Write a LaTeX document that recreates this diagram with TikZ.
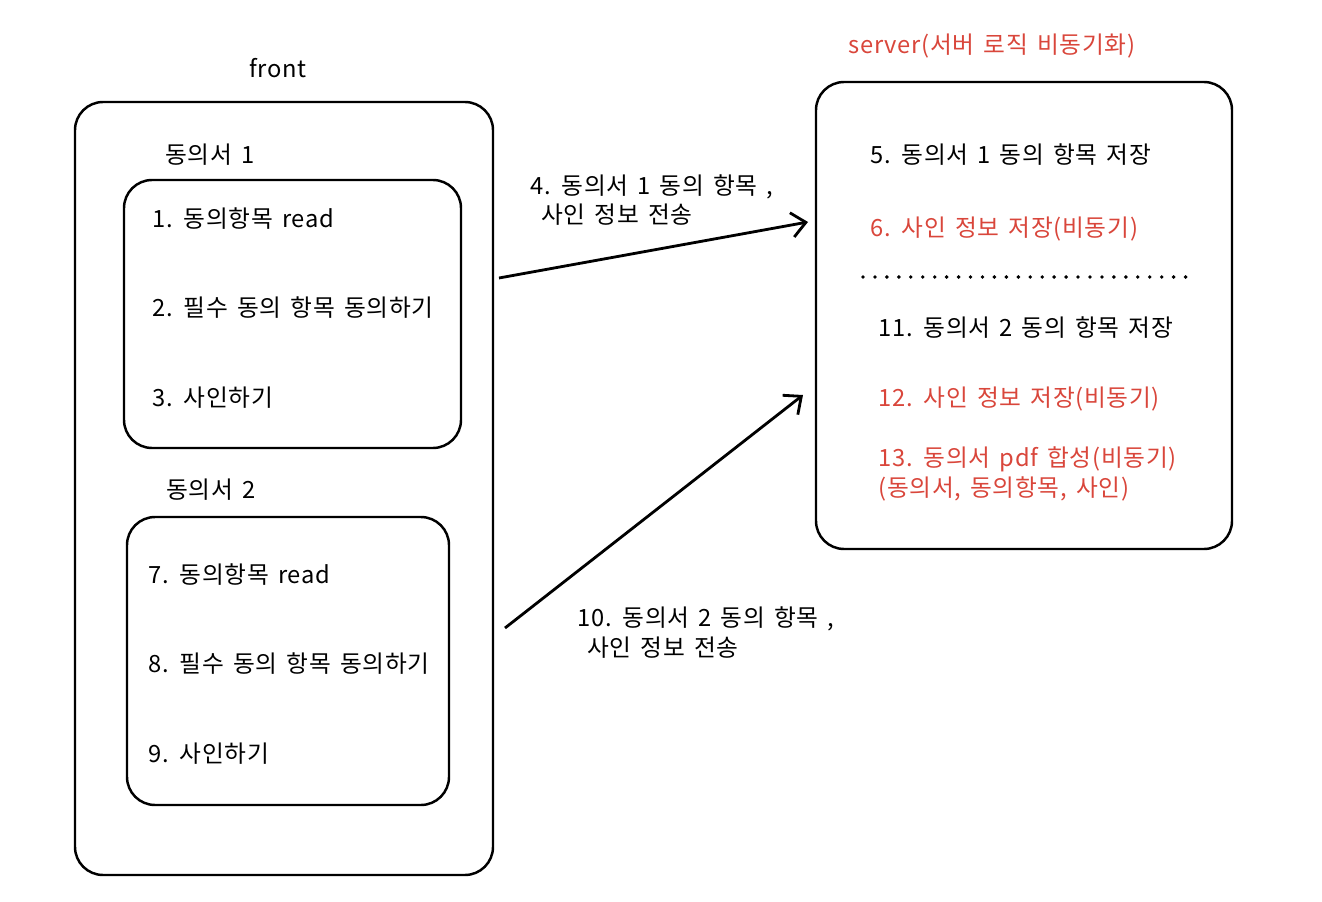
\documentclass[tikz,border=0pt]{standalone}
\usepackage{fontspec}
\setmainfont[LetterSpace=3,WordSpace=1.5]{Noto Sans CJK KR}
\definecolor{srvred}{HTML}{D9463B}
\tikzset{
  box/.style={draw, line width=1.4pt, rounded corners=16pt},
  lbl/.style={right, inner sep=0pt, font=\fontsize{13.5}{16}\selectfont},
  flow/.style={->, line width=1.6pt, >={Straight Barb[length=8pt, width=14pt]}}
}
\usetikzlibrary{arrows.meta}

\begin{document}
\begin{tikzpicture}[x=0.02cm, y=-0.02cm]
\useasboundingbox (0,0) rectangle (1322,902);
% front side
\node [font=\fontsize{13.5}{16}\selectfont] (fronttitle) at (278,68) {front};
\draw [box] (75,102) rectangle (493,875);
\node [font=\fontsize{13.5}{16}\selectfont] (doc1title) at (210,155) {동의서 1};
\draw [box] (124,180) rectangle (461,448);
\node [lbl] (s1) at (152,219) {1. 동의항목 read};
\node [lbl] (s2) at (152,308) {2. 필수 동의 항목 동의하기};
\node [lbl] (s3) at (152,398) {3. 사인하기};
\node [font=\fontsize{13.5}{16}\selectfont] (doc2title) at (211,490) {동의서 2};
\draw [box] (127,517) rectangle (449,805);
\node [lbl] (s7) at (148,575) {7. 동의항목 read};
\node [lbl] (s8) at (148,664) {8. 필수 동의 항목 동의하기};
\node [lbl] (s9) at (148,754) {9. 사인하기};
% server side
\node [font=\fontsize{13.5}{16}\selectfont, text=srvred] (srvtitle) at (992,46) {server(서버 로직 비동기화)};
\draw [box] (816,82) rectangle (1232,549);
\node [lbl] (s5) at (870,155) {5. 동의서 1 동의 항목 저장};
\node [lbl, text=srvred] (s6) at (870,229) {6. 사인 정보 저장(비동기)};
\draw [line width=2.2pt, dash pattern=on 0pt off 6.8pt, line cap=round] (863,277) -- (1188,277);
\node [lbl] (s11) at (878,328) {11. 동의서 2 동의 항목 저장};
\node [lbl, text=srvred] (s12) at (878,399) {12. 사인 정보 저장(비동기)};
\node [lbl, text=srvred] (s13) at (878,459) {13. 동의서 pdf 합성(비동기)};
\node [lbl, text=srvred] (s13b) at (878,489) {(동의서, 동의항목, 사인)};
% requests
\coordinate (a1from) at (499,278);
\coordinate (a1to) at (808,222);
\draw [flow] (a1from) -- (a1to);
\node [lbl] (m4) at (530,187) {4. 동의서 1 동의 항목 ,};
\node [lbl] (m4b) at (541,215) {사인 정보 전송};
\coordinate (a2from) at (505,628);
\coordinate (a2to) at (803,395);
\draw [flow] (a2from) -- (a2to);
\node [lbl] (m10) at (577,619) {10. 동의서 2 동의 항목 ,};
\node [lbl] (m10b) at (587,648) {사인 정보 전송};
\end{tikzpicture}
\end{document}
